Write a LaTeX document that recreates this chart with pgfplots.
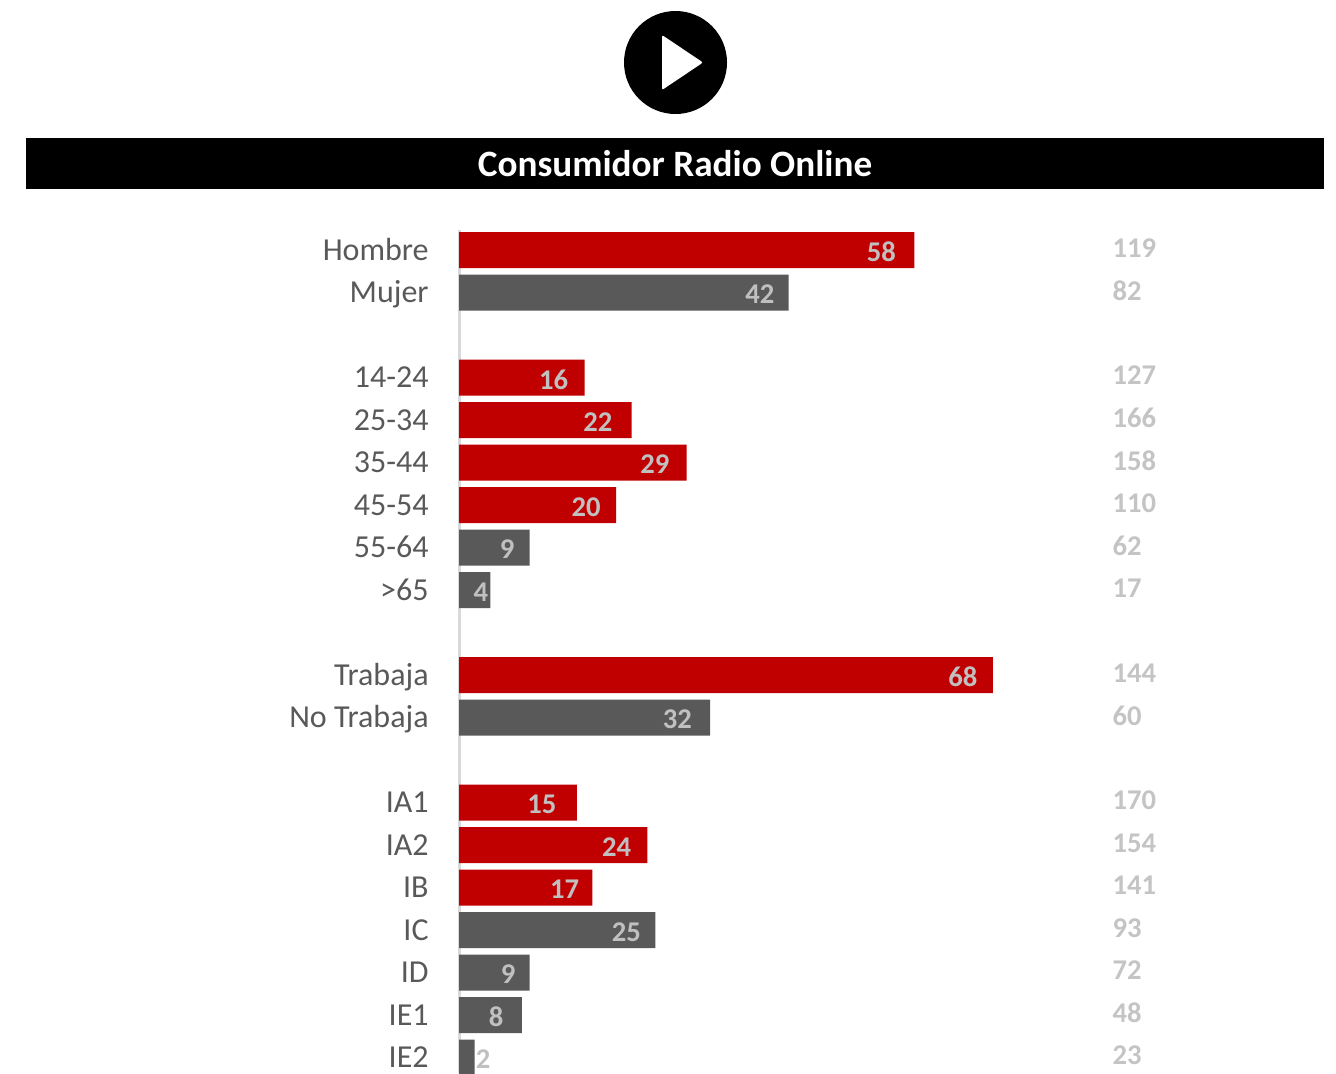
\documentclass[border=0pt]{standalone}
\usepackage{pgfplots}
\pgfplotsset{compat=1.18}
\usepackage{pgfplotstable}
\usepackage{fontspec}
\setmainfont{Carlito}
\definecolor{barred}{HTML}{C00000}
\definecolor{bargray}{HTML}{595959}
\definecolor{vallabel}{HTML}{C0C0C0}
\definecolor{sidelabel}{HTML}{C4C4C4}
\definecolor{axisgray}{HTML}{D9D9D9}

% row, share of the segment, horizontal offset of its label in pt
\pgfplotstableread{
row val off
0 58 -9
3 16 -8
4 22 -9.5
5 29 -8.5
6 20 -7.5
10 68 -7.5
13 15 -10
14 24 -8
15 17 -6.5
}\redbars
\pgfplotstableread{
row val off
1 42 -7
7 9 -7.5
8 4 -1
11 32 -9
16 25 -7
17 9 -7
18 8 -9
19 2 8
}\graybars
% index column printed at the right of each row
\pgfplotstableread{
row pos idx
0 83.2 119
1 83.2 82
3 83.2 127
4 83.2 166
5 83.2 158
6 83.2 110
7 83.2 62
8 83.2 17
10 83.2 144
11 83.2 60
13 83.2 170
14 83.2 154
15 83.2 141
16 83.2 93
17 83.2 72
18 83.2 48
19 83.2 23
}\indexcol

\begin{document}
\begin{tikzpicture}[x=0.5pt,y=-0.5pt]
\useasboundingbox (0,0) rectangle (1336,1073);
% play button
\fill[black] (675.5,62.5) circle [radius=51.5];
\fill[white,rounded corners=1pt] (662,35) -- (703,62.5) -- (662,90) -- cycle;
% heading band
\fill[black] (26,138) rectangle (1324,189);
\node[white,font=\fontsize{18.6}{20}\selectfont\bfseries,anchor=center] at (675,164) {Consumidor Radio Online};
\begin{axis}[
  at={(229.5pt,-536.5pt)},anchor=south west,
  scale only axis,width=438.5pt,height=421.5pt,
  xmin=0,xmax=111.72,
  ymin=-0.4706,ymax=19.365,y dir=reverse,
  axis y line*=left,axis x line=none,
  axis line style={draw=axisgray,line width=1.5pt,-},
  xtick=\empty,
  ytick={0,1,3,4,5,6,7,8,10,11,13,14,15,16,17,18,19},
  yticklabels={Hombre,Mujer,14-24,25-34,35-44,45-54,55-64,>65,Trabaja,No Trabaja,IA1,IA2,IB,IC,ID,IE1,IE2},
  major tick length=0pt,
  y tick label style={font=\fontsize{16}{18}\selectfont,text=bargray,anchor=east,inner sep=0pt,xshift=-15pt,yshift=-2pt,text height=0.84em,text depth=0.2em},
  /pgf/number format/assume math mode=true,
]
\addplot[xbar,bar shift=0pt,bar width=18pt,fill=barred,draw=none,point meta=x,
  visualization depends on={\thisrow{off}\as\lbloff},
  nodes near coords,nodes near coords align={anchor=east},
  every node near coord/.append style={font=\fontsize{14.3}{16}\selectfont\bfseries,text=vallabel,inner sep=0pt,xshift=\lbloff pt,yshift=-1pt}]
  table[x=val,y=row]{\redbars};
\addplot[xbar,bar shift=0pt,bar width=18pt,fill=bargray,draw=none,point meta=x,
  visualization depends on={\thisrow{off}\as\lbloff},
  nodes near coords,nodes near coords align={anchor=east},
  every node near coord/.append style={font=\fontsize{14.3}{16}\selectfont\bfseries,text=vallabel,inner sep=0pt,xshift=\lbloff pt,yshift=-1pt}]
  table[x=val,y=row]{\graybars};
\addplot[draw=none,mark=none,point meta=explicit symbolic,
  nodes near coords,nodes near coords align={anchor=west},
  every node near coord/.append style={font=\fontsize{14.3}{16}\selectfont\bfseries,text=sidelabel,inner sep=0pt,yshift=1pt}]
  table[x=pos,y=row,meta=idx]{\indexcol};
\end{axis}
\end{tikzpicture}
\end{document}
